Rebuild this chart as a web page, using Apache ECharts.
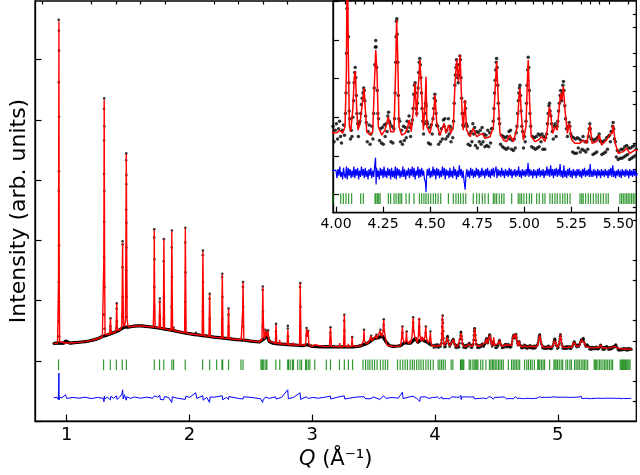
<!DOCTYPE html>
<html><head><meta charset="utf-8">
<script src="https://cdn.jsdelivr.net/npm/echarts@6/dist/echarts.min.js"></script>
<style>html,body{margin:0;padding:0;background:#fff}#c{width:640px;height:475px}</style>
</head><body><div id="c"></div>
<script>
// ---------------- DATA ----------------
// calculated profile, low-Q part [Q, I]
const calcLo = [[0.893,86],[0.925,87],[0.930,95],[0.933,400],[0.936,1690],[0.939,400],[0.942,95],[0.947,88],[0.985,89],[0.990,97],[0.995,89],[1.05,90],[1.10,92],[1.15,96],[1.20,102],[1.25,110],[1.290,120],[1.298,128],[1.302,500],[1.305,1300],[1.308,500],[1.312,130],[1.320,126],[1.350,134],[1.353,170],[1.356,210],[1.359,170],[1.362,136],[1.400,146],[1.404,200],[1.407,285],[1.410,200],[1.414,150],[1.440,158],[1.448,175],[1.452,350],[1.455,585],[1.458,350],[1.462,180],[1.470,170],[1.478,200],[1.482,600],[1.485,1030],[1.488,600],[1.492,200],[1.500,170],[1.55,172],[1.60,174],[1.65,171],[1.705,168],[1.710,300],[1.713,650],[1.716,300],[1.720,168],[1.752,163],[1.755,230],[1.758,300],[1.761,230],[1.764,162],[1.786,160],[1.789,350],[1.791,605],[1.794,350],[1.797,159],[1.850,152],[1.853,350],[1.856,645],[1.859,350],[1.862,152],[1.868,151],[1.870,165],[1.872,151],[1.960,140],[1.963,350],[1.966,660],[1.969,350],[1.972,139],[2.00,135],[2.048,131],[2.051,136],[2.054,130],[2.103,127],[2.106,330],[2.109,545],[2.112,330],[2.115,126],[2.158,122],[2.161,220],[2.164,330],[2.167,220],[2.170,121],[2.215,117],[2.218,125],[2.221,117],[2.261,114],[2.264,270],[2.267,430],[2.270,270],[2.273,113],[2.312,111],[2.315,180],[2.318,258],[2.321,180],[2.324,110],[2.415,105],[2.418,115],[2.421,104],[2.430,104],[2.433,250],[2.436,390],[2.439,250],[2.442,103],[2.575,95],[2.580,110],[2.585,100],[2.590,110],[2.594,230],[2.597,365],[2.600,230],[2.606,120],[2.612,110],[2.618,150],[2.622,125],[2.628,140],[2.634,120],[2.640,150],[2.646,100],[2.660,92],[2.699,87],[2.702,130],[2.705,180],[2.708,130],[2.711,86],[2.730,85],[2.734,105],[2.738,85],[2.795,82],[2.798,115],[2.801,155],[2.804,115],[2.807,81],[2.840,80],[2.845,90],[2.850,79],[2.896,77],[2.899,230],[2.902,385],[2.905,230],[2.908,80],[2.945,78],[2.950,130],[2.953,160],[2.957,120],[2.963,130],[2.967,148],[2.971,90],[2.980,76],[3.00,72],[3.02,80],[3.025,72],[3.10,71],[3.140,72],[3.144,120],[3.148,165],[3.152,120],[3.156,72],[3.220,70],[3.223,88],[3.226,70],[3.255,71],[3.258,150],[3.261,228],[3.264,150],[3.267,71],[3.290,70],[3.294,85],[3.298,70],[3.320,72],[3.324,118],[3.328,75],[3.360,72],[3.40,76],[3.417,100],[3.421,152],[3.425,100],[3.44,85],[3.46,92],[3.477,124],[3.483,100],[3.50,110],[3.52,128],[3.526,110],[3.54,115],[3.552,150],[3.558,125],[3.565,140],[3.570,120],[3.578,160],[3.582,205],[3.586,150],[3.595,120],[3.60,95],[3.61,78],[3.65,73],[3.69,72],[3.70,78],[3.705,72],[3.72,76],[3.730,130],[3.734,170],[3.738,110],[3.750,90],[3.763,100],[3.767,145],[3.771,100],[3.785,85],[3.795,100],[3.80,88],[3.812,120],[3.818,175],[3.822,215],[3.826,150],[3.835,120],[3.845,110],[3.855,90],[3.865,130],[3.871,215],[3.876,130],[3.885,100],[3.895,120],[3.905,100],[3.918,120],[3.924,170],[3.929,120],[3.940,90],[3.955,100],[3.962,140],[3.967,95],[3.975,75]];

// calculated profile, high-Q part [Q, I]
const calcHi = [[3.982,72.5],[4.004,73],[4.021,75],[4.035,72.5],[4.048,77.7],[4.055,120],[4.060,222],[4.065,140],[4.071,78],[4.078,73.8],[4.089,90.8],[4.097,116.8],[4.103,121],[4.110,90.8],[4.117,75],[4.127,80.3],[4.138,93.4],[4.149,107.7],[4.156,90.8],[4.163,73.8],[4.181,71.2],[4.195,73.8],[4.204,111.6],[4.211,137.6],[4.218,119.4],[4.225,77.7],[4.243,71.2],[4.260,75],[4.278,85.5],[4.290,73.8],[4.308,73.8],[4.317,124.6],[4.322,161],[4.327,137.6],[4.335,77.7],[4.349,71.2],[4.366,72.5],[4.379,76.4],[4.389,82.9],[4.400,73.8],[4.411,90.8],[4.420,111.6],[4.428,85.5],[4.437,109],[4.446,129.8],[4.455,103.8],[4.464,75],[4.474,98.6],[4.478,116.8],[4.483,77.7],[4.499,72.5],[4.517,85.5],[4.526,102.5],[4.535,80.3],[4.552,71.2],[4.574,80.3],[4.584,72.5],[4.598,79],[4.609,72.5],[4.623,77.7],[4.632,111.6],[4.641,129.8],[4.650,113],[4.659,133.7],[4.669,90.8],[4.676,75],[4.685,98.6],[4.694,75],[4.712,69.9],[4.729,76.4],[4.747,69.9],[4.777,72.5],[4.791,68.6],[4.818,69.9],[4.836,77.7],[4.844,103.8],[4.853,128.5],[4.862,98.6],[4.871,72.5],[4.889,67.3],[4.906,66],[4.924,71.2],[4.942,66],[4.963,77.7],[4.972,101.2],[4.977,107.7],[4.984,88.1],[4.995,67.3],[5.009,77.7],[5.016,111.6],[5.021,129.8],[5.028,98.6],[5.037,69.9],[5.057,66],[5.075,67.3],[5.092,69.9],[5.110,66],[5.122,75],[5.133,93.4],[5.140,88.1],[5.151,72.5],[5.163,77.7],[5.175,75],[5.186,93.4],[5.193,103.8],[5.200,98.6],[5.207,109],[5.218,88.1],[5.229,72.5],[5.239,80.3],[5.252,67.3],[5.269,64.7],[5.296,64.7],[5.313,67.3],[5.331,64.7],[5.349,79],[5.360,64.7],[5.384,66],[5.398,71.2],[5.411,63.4],[5.437,67.3],[5.452,71.2],[5.466,72.5],[5.473,79],[5.483,64.7],[5.499,56.9],[5.526,58.2],[5.544,60.8],[5.561,56.9],[5.588,59.5],[5.600,59]];

// observed points along the low-Q background [Q, I]
const obsBgLo = [[0.893,86],[0.91,88],[0.925,86],[0.945,89],[0.96,87],[0.975,88],[0.99,99],[1.005,90],[1.03,88],[1.06,91],[1.09,92],[1.12,94],[1.15,96],[1.18,99],[1.21,103],[1.24,108],[1.27,115],[1.29,122],[1.32,126],[1.34,131],[1.37,138],[1.39,143],[1.42,150],[1.44,158],[1.47,168],[1.50,168],[1.52,170],[1.55,173],[1.58,174],[1.61,174],[1.64,172],[1.67,170],[1.70,168],[1.73,165],[1.77,161],[1.81,157],[1.84,154],[1.88,149],[1.91,145],[1.94,141],[1.98,137],[2.01,134],[2.04,131],[2.07,129],[2.10,126],[2.13,124],[2.17,121],[2.20,118],[2.24,116],[2.28,113],[2.31,111],[2.35,108],[2.38,106],[2.42,104],[2.46,102],[2.50,98],[2.54,96],[2.57,94],[2.61,110],[2.63,130],[2.65,96],[2.68,88],[2.72,85],[2.76,83],[2.80,81],[2.83,80],[2.87,78],[2.92,76],[2.96,80],[3.00,72],[3.04,71],[3.08,70],[3.12,71],[3.17,70],[3.21,69],[3.25,70],[3.29,69],[3.33,70],[3.37,72],[3.40,76],[3.44,85],[3.46,92],[3.50,110],[3.54,115],[3.57,125],[3.60,95],[3.63,75],[3.66,72],[3.70,74],[3.72,76],[3.75,90],[3.78,88],[3.80,88],[3.84,112],[3.86,92],[3.89,108],[3.91,100],[3.94,92],[3.97,78]];

// observed points on the low-Q Bragg peaks [Q, I]
const obsPeakLo = [[0.935,1698],[0.936,1644],[0.937,1545],[0.935,1388],[0.937,1215],[0.936,944],[0.935,846],[0.937,575],[0.935,393],[0.937,294],[0.934,196],[0.938,122],
[1.305,1307],[1.304,1255],[1.306,1168],[1.305,1097],[1.304,930],[1.306,846],[1.305,692],[1.304,515],[1.306,367],[1.303,230],[1.307,160],
[1.356,212],[1.355,171],[1.357,150],[1.407,286],[1.406,259],[1.408,196],[1.405,165],
[1.455,595],[1.456,580],[1.454,466],[1.456,318],[1.453,220],
[1.485,1033],[1.484,999],[1.486,925],[1.485,880],[1.484,752],[1.486,688],[1.485,564],[1.484,451],[1.486,318],[1.484,220],
[1.713,655],[1.712,614],[1.714,506],[1.713,368],[1.712,245],[1.758,310],[1.757,294],[1.759,220],
[1.791,606],[1.790,496],[1.792,318],[1.790,210],[1.856,649],[1.855,565],[1.857,417],[1.855,269],[1.870,165],
[1.966,663],[1.965,589],[1.967,441],[1.965,293],[1.967,190],[2.051,140],
[2.109,549],[2.108,526],[2.110,393],[2.108,245],[2.164,334],[2.163,309],[2.165,210],
[2.267,434],[2.266,417],[2.268,318],[2.266,210],[2.318,261],[2.317,230],[2.319,171],
[2.436,393],[2.435,368],[2.437,269],[2.435,171],[2.597,370],[2.596,353],[2.598,245],[2.596,171],[2.618,155],[2.628,145],[2.640,152],
[2.705,184],[2.704,146],[2.801,174],[2.800,161],[2.802,122],[2.902,388],[2.901,368],[2.903,269],[2.901,171],
[2.953,163],[2.967,150],[2.954,130],[3.148,167],[3.147,140],[3.261,229],[3.260,200],[3.262,150],[3.325,118],
[3.421,155],[3.48,125],[3.523,130],[3.555,155],[3.582,207],[3.581,180],[3.583,150],
[3.734,171],[3.733,140],[3.769,146],[3.822,217],[3.821,190],[3.823,150],[3.871,207],[3.870,170],[3.925,171],[3.924,140],[3.962,146]];

// observed points, high-Q part (shown magnified in the inset) [Q, I]
const obsHi = [[3.984,78],[3.990,66],[3.996,75],[4.002,80],[4.008,68],[4.014,76],[4.019,82],[4.024,70],[4.029,65],[4.034,75],[4.040,79],[4.045,71],[4.050,88],[4.053,104],[4.056,135],[4.058,170],[4.060,205],[4.062,226],[4.064,190],[4.066,148],[4.068,112],[4.070,90],[4.073,84],[4.077,68],[4.081,75],[4.085,70],[4.089,85],[4.093,98],[4.096,112],[4.099,120],[4.102,124],[4.105,116],[4.108,102],[4.111,88],[4.115,80],[4.119,70],[4.123,80],[4.127,82],[4.131,88],[4.135,95],[4.139,100],[4.143,104],[4.147,108],[4.150,106],[4.153,98],[4.157,86],[4.161,81],[4.166,66],[4.171,74],[4.176,79],[4.181,64],[4.186,72],[4.191,78],[4.196,68],[4.200,88],[4.203,108],[4.206,126],[4.209,140],[4.211,145],[4.213,140],[4.216,124],[4.219,106],[4.222,88],[4.226,84],[4.231,67],[4.236,76],[4.241,65],[4.246,77],[4.251,64],[4.256,79],[4.261,70],[4.266,80],[4.271,74],[4.275,86],[4.279,89],[4.283,82],[4.287,80],[4.292,66],[4.297,78],[4.302,65],[4.307,76],[4.311,84],[4.314,104],[4.317,128],[4.319,148],[4.321,160],[4.323,162],[4.325,150],[4.328,128],[4.331,102],[4.334,84],[4.338,82],[4.343,66],[4.348,75],[4.353,64],[4.358,78],[4.363,67],[4.368,77],[4.373,69],[4.378,82],[4.383,74],[4.388,86],[4.392,77],[4.396,70],[4.401,80],[4.405,83],[4.409,92],[4.413,103],[4.417,110],[4.420,112],[4.423,104],[4.426,92],[4.429,88],[4.432,96],[4.436,108],[4.439,120],[4.442,128],[4.445,131],[4.448,126],[4.451,116],[4.454,104],[4.457,92],[4.461,82],[4.465,72],[4.469,80],[4.473,88],[4.476,96],[4.479,94],[4.482,82],[4.486,80],[4.491,65],[4.496,77],[4.501,64],[4.506,79],[4.511,72],[4.515,84],[4.519,92],[4.522,100],[4.525,103],[4.528,98],[4.531,88],[4.535,79],[4.540,78],[4.545,64],[4.550,72],[4.555,66],[4.560,76],[4.565,68],[4.570,83],[4.574,78],[4.578,84],[4.583,68],[4.588,75],[4.593,70],[4.597,84],[4.601,72],[4.606,78],[4.611,66],[4.616,76],[4.620,69],[4.624,82],[4.628,96],[4.631,110],[4.634,118],[4.637,124],[4.640,130],[4.643,126],[4.646,116],[4.649,112],[4.652,118],[4.655,126],[4.658,133],[4.661,130],[4.664,116],[4.667,100],[4.670,88],[4.674,79],[4.678,78],[4.682,88],[4.685,97],[4.688,92],[4.692,80],[4.697,78],[4.702,64],[4.707,72],[4.712,63],[4.717,74],[4.722,66],[4.727,80],[4.731,72],[4.736,77],[4.741,63],[4.746,74],[4.751,61],[4.756,73],[4.761,66],[4.766,75],[4.771,64],[4.776,77],[4.781,66],[4.786,72],[4.791,62],[4.796,71],[4.801,63],[4.806,75],[4.811,62],[4.816,73],[4.821,65],[4.826,76],[4.831,76],[4.835,82],[4.839,92],[4.842,104],[4.845,114],[4.848,122],[4.851,128],[4.853,131],[4.856,124],[4.859,110],[4.862,96],[4.865,84],[4.869,80],[4.874,64],[4.879,71],[4.884,62],[4.889,70],[4.894,61],[4.899,69],[4.904,60],[4.909,70],[4.914,61],[4.919,74],[4.923,68],[4.927,75],[4.932,60],[4.937,67],[4.942,59],[4.947,68],[4.952,61],[4.957,73],[4.961,78],[4.965,88],[4.968,98],[4.971,104],[4.974,108],[4.977,110],[4.980,102],[4.983,90],[4.987,78],[4.991,74],[4.996,61],[5.001,70],[5.005,66],[5.009,82],[5.012,96],[5.015,110],[5.018,122],[5.021,132],[5.024,124],[5.027,106],[5.030,88],[5.034,78],[5.039,62],[5.044,70],[5.049,61],[5.054,69],[5.059,60],[5.064,70],[5.069,61],[5.074,72],[5.079,62],[5.084,71],[5.089,66],[5.094,72],[5.099,60],[5.104,70],[5.109,60],[5.114,69],[5.119,72],[5.123,80],[5.127,88],[5.131,94],[5.134,96],[5.137,90],[5.141,86],[5.145,80],[5.149,74],[5.154,68],[5.159,78],[5.164,80],[5.169,70],[5.174,78],[5.178,82],[5.182,90],[5.186,96],[5.190,102],[5.193,106],[5.196,100],[5.199,98],[5.202,104],[5.205,110],[5.208,113],[5.211,106],[5.215,94],[5.219,84],[5.224,76],[5.229,70],[5.234,78],[5.238,81],[5.242,78],[5.247,72],[5.252,70],[5.257,58],[5.262,69],[5.267,57],[5.272,68],[5.277,57],[5.282,69],[5.287,61],[5.292,68],[5.297,58],[5.302,67],[5.307,60],[5.312,70],[5.317,59],[5.322,66],[5.327,58],[5.332,66],[5.337,60],[5.341,70],[5.345,76],[5.348,80],[5.351,76],[5.355,68],[5.360,68],[5.365,56],[5.370,67],[5.375,57],[5.380,68],[5.385,58],[5.390,69],[5.394,70],[5.398,72],[5.402,67],[5.407,66],[5.412,56],[5.417,66],[5.422,57],[5.427,67],[5.432,58],[5.437,69],[5.442,60],[5.447,70],[5.452,71],[5.457,66],[5.462,74],[5.466,74],[5.469,78],[5.472,81],[5.475,76],[5.479,68],[5.484,66],[5.489,54],[5.494,59],[5.499,52],[5.504,58],[5.509,53],[5.514,60],[5.519,53],[5.524,60],[5.529,54],[5.534,62],[5.539,55],[5.544,63],[5.549,56],[5.554,61],[5.559,52],[5.564,61],[5.569,53],[5.574,62],[5.579,54],[5.584,63],[5.589,55],[5.594,60],[5.600,57]];

// difference (obs - calc) [Q, residual]
const diffLo = [[0.893,0],[0.92,2],[0.93,-8],[0.934,40],[0.936,123],[0.938,-10],[0.942,3],[0.96,0],[0.99,15],[1.00,-3],[1.05,2],[1.10,-2],[1.15,3],[1.20,-4],[1.25,2],[1.30,-3],[1.303,-20],[1.306,8],[1.31,-5],[1.33,3],[1.355,-10],[1.36,8],[1.38,-3],[1.405,10],[1.41,-8],[1.43,3],[1.45,20],[1.455,40],[1.46,-6],[1.47,15],[1.48,8],[1.485,-12],[1.49,5],[1.52,-3],[1.55,4],[1.60,-2],[1.65,3],[1.70,-2],[1.712,-10],[1.715,10],[1.74,3],[1.758,12],[1.762,-8],[1.79,-10],[1.795,6],[1.83,2],[1.855,-23],[1.86,5],[1.90,-2],[1.965,-8],[1.97,8],[2.00,2],[2.05,25],[2.06,-3],[2.108,10],[2.112,-12],[2.14,2],[2.163,-23],[2.168,4],[2.20,3],[2.266,10],[2.27,-10],[2.30,2],[2.318,-8],[2.32,6],[2.40,-3],[2.436,-6],[2.44,5],[2.50,2],[2.58,-5],[2.595,-23],[2.60,-10],[2.62,4],[2.65,-3],[2.70,5],[2.705,-6],[2.75,2],[2.80,40],[2.805,-5],[2.85,3],[2.90,25],[2.905,-8],[2.95,5],[2.97,-4],[3.00,2],[3.05,-2],[3.10,3],[3.148,8],[3.15,-6],[3.20,2],[3.26,10],[3.265,-6],[3.30,-2],[3.35,3],[3.42,6],[3.43,-4],[3.47,-5],[3.50,4],[3.55,-8],[3.58,10],[3.60,-3],[3.65,2],[3.70,-2],[3.734,28],[3.74,-4],[3.78,3],[3.82,8],[3.85,-3],[3.876,-18],[3.88,4],[3.92,5],[3.95,-3],[3.98,2]];
const diffHi = [[4.00,2],[4.005,-4],[4.01,3],[4.015,-2],[4.02,5],[4.025,-3],[4.03,1],[4.035,-5],[4.04,4],[4.045,-2],[4.05,-4],[4.055,5],[4.06,-5],[4.065,4],[4.07,-2],[4.075,3],[4.08,-4],[4.085,2],[4.09,-3],[4.095,5],[4.10,-4],[4.105,3],[4.11,-2],[4.115,4],[4.12,-5],[4.125,2],[4.13,-3],[4.135,5],[4.14,-2],[4.145,3],[4.15,-4],[4.155,4],[4.16,-3],[4.165,2],[4.17,-5],[4.175,3],[4.18,-2],[4.185,4],[4.19,-4],[4.195,2],[4.20,-3],[4.205,5],[4.210,12],[4.213,-9],[4.216,4],[4.22,-3],[4.225,2],[4.23,-5],[4.235,4],[4.24,-2],[4.245,3],[4.25,-4],[4.255,5],[4.26,-3],[4.265,2],[4.27,-4],[4.275,4],[4.28,-2],[4.285,3],[4.29,-5],[4.295,4],[4.30,-3],[4.305,2],[4.31,-4],[4.315,5],[4.32,-5],[4.325,4],[4.33,-2],[4.335,3],[4.34,-4],[4.345,2],[4.35,-3],[4.355,5],[4.36,-3],[4.365,3],[4.37,-5],[4.375,2],[4.38,-2],[4.385,4],[4.39,-4],[4.395,3],[4.40,-2],[4.405,5],[4.41,-3],[4.415,4],[4.42,-5],[4.425,2],[4.43,-2],[4.435,5],[4.44,-4],[4.445,3],[4.45,-3],[4.455,4],[4.46,-2],[4.465,2],[4.47,-5],[4.475,-7],[4.478,-15],[4.481,-3],[4.485,3],[4.49,-2],[4.495,4],[4.50,-4],[4.505,2],[4.51,-3],[4.515,5],[4.52,-2],[4.525,3],[4.53,-5],[4.535,4],[4.54,-2],[4.545,3],[4.55,-4],[4.555,2],[4.56,-3],[4.565,5],[4.57,-2],[4.575,4],[4.58,-5],[4.585,3],[4.59,-2],[4.595,2],[4.60,-4],[4.605,4],[4.61,-3],[4.615,2],[4.62,-4],[4.625,5],[4.63,-2],[4.635,3],[4.64,-5],[4.645,2],[4.65,-3],[4.655,6],[4.66,-2],[4.665,3],[4.67,-4],[4.675,2],[4.68,-6],[4.686,-13],[4.69,-2],[4.695,3],[4.70,-3],[4.705,2],[4.71,-4],[4.715,4],[4.72,-2],[4.725,3],[4.73,-4],[4.735,2],[4.74,-3],[4.745,4],[4.75,-2],[4.755,3],[4.76,-4],[4.765,2],[4.77,-3],[4.775,4],[4.78,-2],[4.785,2],[4.79,-4],[4.795,3],[4.80,-2],[4.805,4],[4.81,-3],[4.815,2],[4.82,-4],[4.825,3],[4.83,-2],[4.835,4],[4.84,-3],[4.845,2],[4.85,5],[4.855,-4],[4.86,3],[4.865,-2],[4.87,2],[4.875,-3],[4.88,4],[4.885,-2],[4.89,2],[4.895,-4],[4.90,3],[4.905,-2],[4.91,2],[4.915,-3],[4.92,4],[4.925,-2],[4.93,3],[4.935,-4],[4.94,2],[4.945,-2],[4.95,3],[4.955,-3],[4.96,2],[4.965,-2],[4.97,5],[4.975,-3],[4.98,2],[4.985,-4],[4.99,3],[4.995,-2],[5.00,2],[5.005,-3],[5.01,3],[5.015,-2],[5.02,8],[5.025,-3],[5.03,3],[5.035,-2],[5.04,2],[5.045,-4],[5.05,3],[5.055,-2],[5.06,2],[5.065,-4],[5.07,3],[5.075,-2],[5.08,4],[5.085,-3],[5.09,2],[5.095,-2],[5.10,3],[5.105,-4],[5.11,2],[5.115,-2],[5.12,5],[5.125,-2],[5.13,3],[5.135,-3],[5.14,6],[5.145,-2],[5.15,3],[5.155,-4],[5.16,3],[5.165,-2],[5.17,4],[5.175,-3],[5.18,3],[5.185,-2],[5.19,7],[5.195,-3],[5.20,2],[5.205,-4],[5.21,6],[5.215,-3],[5.22,2],[5.225,-4],[5.23,3],[5.235,-2],[5.24,4],[5.245,-3],[5.25,2],[5.255,-4],[5.26,3],[5.265,-2],[5.27,2],[5.275,-4],[5.28,3],[5.285,-2],[5.29,3],[5.295,-3],[5.30,2],[5.305,-4],[5.31,3],[5.315,-2],[5.32,4],[5.325,-3],[5.33,2],[5.335,-2],[5.34,3],[5.345,-3],[5.35,7],[5.355,-3],[5.36,2],[5.365,-3],[5.37,3],[5.375,-2],[5.38,2],[5.385,-4],[5.39,3],[5.395,-2],[5.40,2],[5.405,-4],[5.41,3],[5.415,-2],[5.42,2],[5.425,-3],[5.43,3],[5.435,-2],[5.44,2],[5.445,-4],[5.45,3],[5.455,-2],[5.46,4],[5.465,-3],[5.47,6],[5.475,-3],[5.48,2],[5.485,-4],[5.49,2],[5.495,-2],[5.50,3],[5.505,-3],[5.51,2],[5.515,-4],[5.52,3],[5.525,-2],[5.53,2],[5.535,-3],[5.54,3],[5.545,-2],[5.55,2],[5.555,-4],[5.56,3],[5.565,-2],[5.57,2],[5.575,-3],[5.58,3],[5.585,-2],[5.59,2],[5.595,-3],[5.60,0]];

// Bragg reflection positions (Q)
const reflQ = [0.933,1.300,1.355,1.404,1.452,1.486,1.713,1.756,1.790,1.856,1.870,1.965,2.107,2.164,2.221,2.264,2.270,2.318,2.419,2.436,2.582,2.590,2.597,2.606,2.622,2.630,2.703,2.735,2.800,2.806,2.820,2.838,2.847,2.881,2.900,2.913,2.945,2.953,2.967,2.980,3.020,3.114,3.148,3.221,3.261,3.294,3.328,3.413,3.434,3.453,3.469,3.488,3.507,3.528,3.555,3.576,3.595,3.614,3.694,3.716,3.737,3.756,3.775,3.797,3.815,3.831,3.850,3.868,3.885,3.904,3.925,3.944,3.963,3.985,
4.025,4.039,4.053,4.067,4.083,4.131,4.145,4.207,4.212,4.220,4.227,4.234,4.278,4.290,4.308,4.319,4.331,4.340,4.349,4.372,4.389,4.414,4.443,4.455,4.467,4.478,4.490,4.503,4.517,4.529,4.542,4.556,4.597,4.623,4.637,4.650,4.662,4.676,4.689,4.729,4.747,4.761,4.777,4.791,4.809,4.836,4.844,4.853,4.867,4.880,4.892,4.933,4.968,4.977,4.986,4.998,5.012,5.027,5.039,5.066,5.080,5.098,5.110,5.136,5.149,5.163,5.175,5.190,5.204,5.216,5.229,5.243,5.296,5.305,5.313,5.326,5.340,5.352,5.367,5.381,5.393,5.406,5.420,5.434,5.446,5.508,5.517,5.526,5.535,5.544,5.552,5.561,5.570,5.579,5.588];

// tick values
const xMajorMain = [1,2,3,4,5];
const xMinorMain = [0.8,1.2,1.4,1.6,1.8,2.2,2.4,2.6,2.8,3.2,3.4,3.6,3.8,4.2,4.4,4.6,4.8,5.2,5.4,5.6];
const yMajorMain = [-300,0,300,600,900,1200,1500];
const yMinorMain = [-200,-100,100,200,400,500,700,800,1000,1100,1300,1400,1600,1700];
const xMajorInset = [4.00,4.25,4.50,4.75,5.00,5.25,5.50];
const xMinorInset = [4.05,4.10,4.15,4.20,4.30,4.35,4.40,4.45,4.55,4.60,4.65,4.70,4.80,4.85,4.90,4.95,5.05,5.10,5.15,5.20,5.30,5.35,5.40,5.45,5.55];
const yMajorInset = [24.6,54.8,85.0,115.3,145.5,175.7];
const yMinorInset = [14.5,34.7,44.7,64.9,75.0,95.1,105.2,125.3,135.4,155.6,165.6];

// ---------------- LAYOUT ----------------
const mainX = [0.7414, 5.639], mainY = [-300, 1792];
const insetX = [3.984, 5.595], insetY = [10.5, 175.9];
const diffOffMain = -184, tickRowMain = -19.5, diffOffInset = 41.5, tickRowInset = 21.5;
const FONT = 'DejaVu Sans';

const calcAll = calcLo.concat(calcHi);
const obsDotsMain = obsBgLo.concat(obsPeakLo, obsHi);
const diffAll = diffLo.concat(diffHi);

function tickAxis(grid, minmax, vals, len, opts) {
  return Object.assign({
    type: 'value', gridIndex: grid, min: minmax[0], max: minmax[1],
    axisLine: {show: false, onZero: false}, splitLine: {show: false},
    axisTick: {show: true, inside: true, length: len, customValues: vals, lineStyle: {color: '#000', width: 1.2}},
    axisLabel: {show: false}
  }, opts || {});
}
const LINE = {show: true, onZero: false, lineStyle: {color: '#000', width: 1.3}};

const option = {
  animation: false,
  backgroundColor: '#fff',
  grid: [
    {left: 26, top: 1, right: 3.7, bottom: 49.4, show: true, borderColor: '#000', borderWidth: 1.3, backgroundColor: 'transparent', z: 1},
    {left: 333, top: 1, right: 3.7, height: 211.7, show: true, borderColor: '#000', borderWidth: 1.3, backgroundColor: '#fff', z: 20}
  ],
  xAxis: [
    tickAxis(0, mainX, xMajorMain, 6.5, {
      axisLine: LINE,
      axisLabel: {show: true, customValues: xMajorMain, fontSize: 18, color: '#000', fontFamily: FONT, margin: 5},
      name: '{q|Q} (Å⁻¹)', nameLocation: 'middle', nameGap: 27,
      nameTextStyle: {fontSize: 21, color: '#000', fontFamily: FONT, rich: {q: {fontSize: 21, fontStyle: 'italic', fontFamily: FONT, color: '#000'}}}
    }),
    tickAxis(0, mainX, xMinorMain, 3.5),
    tickAxis(1, insetX, xMajorInset, 6, {z: 21,
      axisLine: LINE,
      axisLabel: {show: true, customValues: xMajorInset, fontSize: 14, color: '#000', fontFamily: FONT, margin: 5, formatter: v => v.toFixed(2)}
    }),
    tickAxis(1, insetX, xMinorInset, 3.5, {z: 21})
  ],
  yAxis: [
    tickAxis(0, mainY, yMajorMain, 6.5, {
      axisLine: LINE,
      name: 'Intensity (arb. units)', nameLocation: 'middle', nameGap: 5,
      nameTextStyle: {fontSize: 22, color: '#000', fontFamily: FONT}
    }),
    tickAxis(0, mainY, yMinorMain, 3.5),
    tickAxis(1, insetY, yMajorInset, 6, {z: 21, axisLine: LINE}),
    tickAxis(1, insetY, yMinorInset, 3.5, {z: 21})
  ],
  series: [
    // main panel
    {type: 'line', xAxisIndex: 0, yAxisIndex: 0, data: obsBgLo, showSymbol: false, lineStyle: {color: '#000', width: 3.2}, z: 2},
    {type: 'scatter', xAxisIndex: 0, yAxisIndex: 0, data: obsDotsMain, symbolSize: 2.6, itemStyle: {color: '#000'}, z: 3},
    {type: 'line', xAxisIndex: 0, yAxisIndex: 0, data: calcAll, showSymbol: false, lineStyle: {color: '#ff0000', width: 1.4}, z: 4},
    {type: 'scatter', xAxisIndex: 0, yAxisIndex: 0, data: reflQ.map(q => [q, tickRowMain]), symbol: 'rect', symbolSize: [1.2, 10.7], itemStyle: {color: '#008000'}, z: 4},
    {type: 'line', xAxisIndex: 0, yAxisIndex: 0, data: diffAll.map(d => [d[0], d[1] + diffOffMain]), showSymbol: false, lineStyle: {color: '#0000ff', width: 1}, z: 4},
    // inset
    {type: 'scatter', xAxisIndex: 2, yAxisIndex: 2, data: obsHi, symbolSize: 3.5, itemStyle: {color: '#000'}, z: 22},
    {type: 'line', xAxisIndex: 2, yAxisIndex: 2, data: calcAll, showSymbol: false, lineStyle: {color: '#ff0000', width: 1.5}, z: 23},
    {type: 'line', xAxisIndex: 2, yAxisIndex: 2, data: diffAll.map(d => [d[0], d[1] + diffOffInset]), showSymbol: false, lineStyle: {color: '#0000ff', width: 1.2}, z: 23},
    {type: 'scatter', xAxisIndex: 2, yAxisIndex: 2, data: reflQ.map(q => [q, tickRowInset]), symbol: 'rect', symbolSize: [1.2, 10.7], itemStyle: {color: '#008000'}, z: 23}
  ]
};
const chart = echarts.init(document.getElementById('c'), null, {renderer: 'canvas'});
chart.setOption(option);
</script></body></html>
